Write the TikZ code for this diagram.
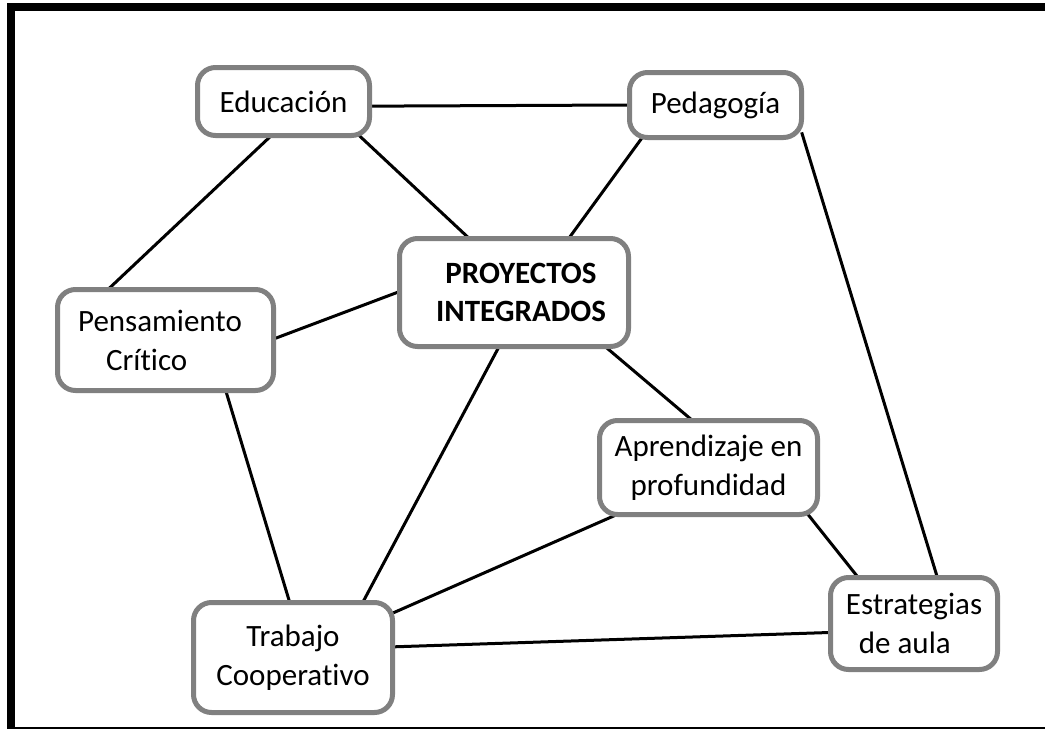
\documentclass[tikz,border=0pt]{standalone}
\usepackage{fontspec}
\setmainfont{Carlito}[Ligatures=NoCommon]
\usetikzlibrary{backgrounds}

\tikzset{
  concept/.style={draw=gray, line width=5pt, rounded corners=18pt, fill=white,
    align=center, inner sep=0pt, font=\fontsize{31}{39}\selectfont},
  link/.style={line width=3pt, shorten <=-8pt, shorten >=-8pt}
}

\begin{document}
\begin{tikzpicture}[x=1pt, y=-1pt]
        \useasboundingbox (0, 0) rectangle (1045, 729);
        \draw [line width=8pt] (1045, 7) -- (11, 7) -- (11, 729);
        \draw [line width=2pt] (11, 728) -- (1045, 728);

        \node [concept, minimum width=172pt, minimum height=68pt] (edu) at (283.5, 101.5) {Educación};
        \node [concept, minimum width=172pt, minimum height=65pt] (ped) at (715.5, 105) {Pedagogía};
        \node [concept, minimum width=229pt, minimum height=108pt, font=\fontsize{31}{38}\selectfont\bfseries] (proy) at (514, 292.5) {\hspace*{14pt}PROYECTOS\\\hspace*{14pt}INTEGRADOS};
        \node [concept, minimum width=216pt, minimum height=101pt, align=left] (pens) at (165.5, 340) {Pensamiento\hspace*{11pt}\\\hspace*{28pt}Crítico};
        \node [concept, minimum width=218pt, minimum height=94pt] (apr) at (708.5, 467.5) {Aprendizaje en\\profundidad};
        \node [concept, minimum width=167pt, minimum height=92pt, align=left] (est) at (914, 623.5) {Estrategias\\\hspace*{13pt}de aula};
        \node [concept, minimum width=199pt, minimum height=110pt] (trab) at (293, 657.5) {Trabajo\\Cooperativo};

        \begin{pgfonlayer}{background}
          \draw [link] (edu.-3) -- (ped.west);
          \draw [link] (edu.248) -- (pens.136);
          \draw [link] (edu.335) -- (proy.130);
          \draw [link] (ped.205) -- (proy.45);
          \draw [link] (ped.south east) -- (est.65);
          \draw [link] (pens.1) -- (proy.west);
          \draw [link] (pens.319) -- (trab.94);
          \draw [link] (proy.329) -- (apr.111);
          \draw [link] (proy.254) -- (trab.39);
          \draw [link] (apr.207) -- (trab.24);
          \draw [link] (apr.334) -- (est.140);
          \draw [link] (trab.6) -- (est.186);
        \end{pgfonlayer}
      \end{tikzpicture}
\end{document}
